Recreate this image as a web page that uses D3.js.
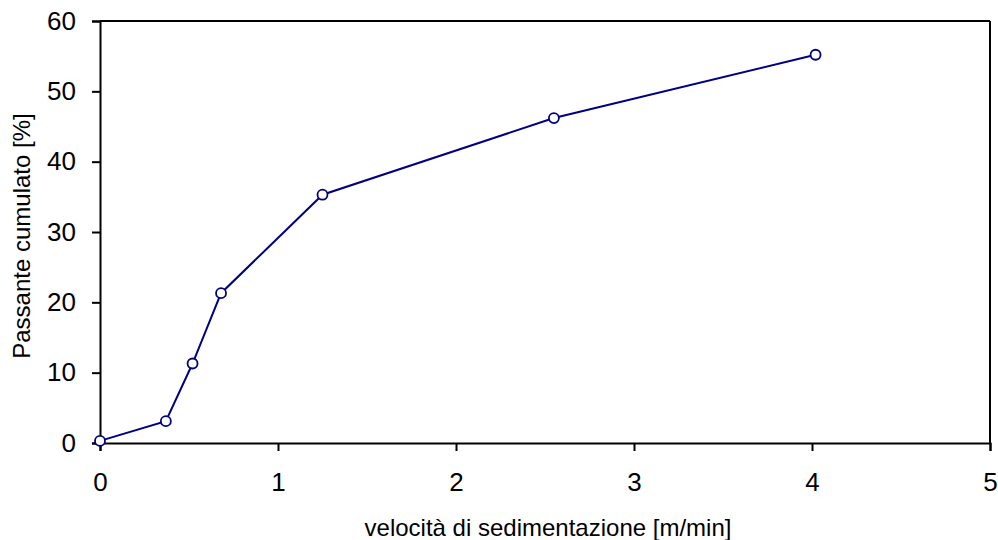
<!DOCTYPE html>
<html>
<head>
<meta charset="utf-8">
<script src="https://cdn.jsdelivr.net/npm/d3@7"></script>
<style>
  body { margin: 0; background: #fff; }
  svg { display: block; font-family: "Liberation Sans", Arial, sans-serif; }
  .axis path, .axis line { stroke: #000; stroke-width: 2; }
  .axis text { font-size: 26px; fill: #000; font-family: "Liberation Sans", Arial, sans-serif; }
</style>
</head>
<body>
<div id="chart"></div>
<script>
const velocita = [0, 0.37, 0.52, 0.68, 1.25, 2.55, 4.02];
const passante = [0.3, 3.1, 11.3, 21.3, 35.3, 46.2, 55.2];
const xTicks = [0, 1, 2, 3, 4, 5];
const yTicks = [0, 10, 20, 30, 40, 50, 60];

const W = 998, H = 540;
const margin = { top: 21, right: 8, bottom: 97, left: 100 };
const width = W - margin.left - margin.right;
const height = H - margin.top - margin.bottom;

const svg = d3.select('#chart').append('svg')
    .attr('width', W).attr('height', H);
const g = svg.append('g')
    .attr('transform', `translate(${margin.left},${margin.top})`);

const x = d3.scaleLinear().domain([0, 5]).range([0, width]);
const y = d3.scaleLinear().domain([0, 60]).range([height, 0]);

// Frame (top and right)
g.append('line').attr('x1', 0).attr('x2', width).attr('y1', 0).attr('y2', 0)
    .attr('stroke', '#000').attr('stroke-width', 2);
g.append('line').attr('x1', width).attr('x2', width).attr('y1', 0).attr('y2', height)
    .attr('stroke', '#000').attr('stroke-width', 2);

// Axes
g.append('g').attr('class', 'axis')
    .attr('transform', `translate(0,${height})`)
    .call(d3.axisBottom(x).tickValues(xTicks).tickFormat(d3.format('d')).tickSizeOuter(0).tickSize(8).tickPadding(22));

g.append('g').attr('class', 'axis')
    .call(d3.axisLeft(y).tickValues(yTicks).tickFormat(d3.format('d')).tickSizeOuter(0).tickSize(8).tickPadding(16));

// Line
const data = velocita.map((v, i) => ({ v, p: passante[i] }));
g.append('path').datum(data)
    .attr('fill', 'none').attr('stroke', '#000080').attr('stroke-width', 2)
    .attr('d', d3.line().x(d => x(d.v)).y(d => y(d.p)));

// Markers
g.selectAll('.pt').data(data).enter().append('circle')
    .attr('class', 'pt')
    .attr('cx', d => x(d.v)).attr('cy', d => y(d.p)).attr('r', 5)
    .attr('fill', '#fff').attr('stroke', '#000080').attr('stroke-width', 1.8);

// Axis titles
svg.append('text')
    .attr('x', 548).attr('y', 536)
    .attr('text-anchor', 'middle').attr('font-size', 24)
    .text('velocità di sedimentazione [m/min]');

svg.append('text')
    .attr('transform', `translate(30,236) rotate(-90)`)
    .attr('text-anchor', 'middle').attr('font-size', 24)
    .text('Passante cumulato [%]');
</script>
</body>
</html>
